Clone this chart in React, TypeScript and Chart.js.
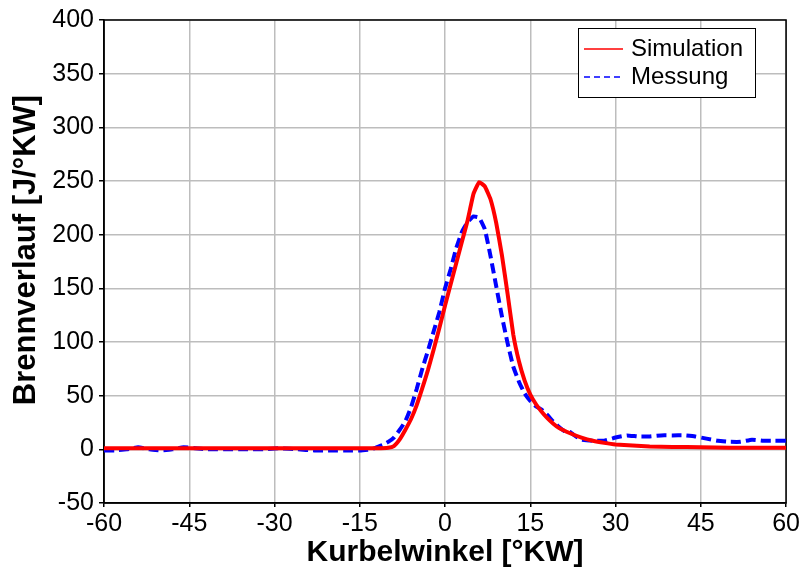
import React, { useEffect, useRef } from "react";
import { Chart, registerables } from "chart.js";

Chart.register(...registerables);

const simAngles = [-60, -50, -40, -30, -20, -14, -12, -10, -9, -8, -7, -6, -5, -4, -3, -2, -1, 0, 1, 2, 3, 4, 5, 6, 7, 8, 9, 10, 11, 12, 13, 14, 15, 16, 17, 18, 19, 20, 22, 24, 26, 28, 30, 33, 36, 40, 45, 50, 55, 60];
const simValues = [1, 1, 1, 1, 1, 1, 1, 1.5, 3, 9, 18, 28, 41, 57, 74, 93, 113, 134, 154, 174, 194, 214, 238, 249, 245, 233, 211, 181, 145, 107, 82, 64, 51, 42, 35, 29, 24, 20, 15, 11, 8, 6, 4.5, 3.5, 2.7, 2.2, 2, 1.5, 1.5, 1.5];

const mesAngles = [-60, -58, -56, -54, -52, -50, -48, -46, -44, -42, -40, -38, -35, -32, -29, -26, -23, -20, -17, -15, -13, -12, -11, -10, -9, -8, -7, -6, -5, -4, -3, -2, -1, 0, 1, 2, 3, 4, 5, 6, 7, 8, 9, 10, 11, 12, 13, 14, 15, 16, 17, 18, 19, 20, 21, 22, 23, 24, 26, 28, 30, 32, 34, 36, 38, 40, 42, 44, 46, 48, 50, 52, 54, 56, 58, 60];
const mesValues = [-1, -1, 0, 2, 0, -1, 0, 2, 1, 0, 0, 0, 0, 0, 1, 0, -1, -1, -1, -1, 0, 2, 4, 7, 11, 18, 26, 39, 56, 75, 92, 110, 128, 150, 168, 188, 203, 212, 217, 216, 205, 180, 152, 124, 99, 77, 63, 52, 45, 40, 37, 32, 26, 21, 17, 16, 12, 9, 8, 8, 11, 13, 12, 12, 13, 13, 13, 12, 10, 8, 7, 7, 9, 8, 8, 8];

const xTicks = [-60, -45, -30, -15, 0, 15, 30, 45, 60];
const yTicks = [-50, 0, 50, 100, 150, 200, 250, 300, 350, 400];

const seriesNames = ["Simulation", "Messung"];
const seriesColors = ["#ff0000", "#0000ff"];
const xTitle = "Kurbelwinkel [°KW]";
const yTitle = "Brennverlauf [J/°KW]";

const FONT = "'Liberation Sans', Arial, sans-serif";

export default function App() {
  const ref = useRef<HTMLCanvasElement | null>(null);

  useEffect(() => {
    document.body.style.margin = "0";
    const canvas = ref.current;
    if (!canvas) return;

    const frame = {
      id: "frame",
      beforeDatasetsDraw(chart: any) {
        const { ctx, chartArea } = chart;
        ctx.save();
        ctx.strokeStyle = "#000";
        ctx.lineWidth = 1.5;
        ctx.strokeRect(chartArea.left, chartArea.top, chartArea.right - chartArea.left, chartArea.bottom - chartArea.top);
        ctx.restore();
      },
    };

    const yTitlePlugin = {
      id: "yTitle",
      afterDraw(chart: any) {
        const { ctx } = chart;
        ctx.save();
        ctx.translate(26, 250);
        ctx.rotate(-Math.PI / 2);
        ctx.fillStyle = "#000";
        ctx.font = `bold 31px ${FONT}`;
        ctx.textAlign = "center";
        ctx.textBaseline = "middle";
        ctx.fillText(yTitle, 0, 0);
        ctx.restore();
      },
    };

    const legendBox = {
      id: "legendBox",
      afterDraw(chart: any) {
        const { ctx } = chart;
        ctx.save();
        const x0 = 578, y0 = 28, w = 177, h = 69;
        ctx.fillStyle = "#fff";
        ctx.fillRect(x0, y0, w, h);
        ctx.strokeStyle = "#000";
        ctx.lineWidth = 1;
        ctx.strokeRect(x0 + 0.5, y0 + 0.5, w, h);
        const rows = [49, 77];
        rows.forEach((yy, i) => {
          ctx.beginPath();
          ctx.strokeStyle = seriesColors[i];
          ctx.lineWidth = 1.5;
          ctx.setLineDash(i === 1 ? [6, 4] : []);
          ctx.moveTo(584, yy);
          ctx.lineTo(623, yy);
          ctx.stroke();
          ctx.setLineDash([]);
          ctx.fillStyle = "#000";
          ctx.font = `24px ${FONT}`;
          ctx.textBaseline = "middle";
          ctx.textAlign = "left";
          ctx.fillText(seriesNames[i], 631, yy);
        });
        ctx.restore();
      },
    };

    const chart = new Chart(canvas, {
      type: "line",
      data: {
        datasets: [
          {
            label: seriesNames[0],
            data: simAngles.map((a, i) => ({ x: a, y: simValues[i] })),
            borderColor: seriesColors[0],
            borderWidth: 4,
            pointRadius: 0,
            tension: 0.1,
            fill: false,
          },
          {
            label: seriesNames[1],
            data: mesAngles.map((a, i) => ({ x: a, y: mesValues[i] })),
            borderColor: seriesColors[1],
            borderWidth: 4,
            borderDash: [10, 5],
            pointRadius: 0,
            tension: 0.1,
            fill: false,
          },
        ],
      },
      options: {
        responsive: false,
        animation: false,
        layout: { padding: { top: 15, right: 15, left: 0, bottom: 0 } },
        plugins: {
          legend: { display: false },
          tooltip: { enabled: false },
        },
        scales: {
          x: {
            type: "linear",
            min: -60,
            max: 60,
            afterBuildTicks: (axis: any) => {
              axis.ticks = xTicks.map((v) => ({ value: v }));
            },
            afterFit: (axis: any) => {
              axis.height = 68;
            },
            ticks: {
              autoSkip: false,
              maxRotation: 0,
              color: "#000",
              padding: 2,
              font: { family: FONT, size: 25 },
            },
            grid: {
              color: "#bdbdbd",
              lineWidth: 1.5,
              tickColor: "#000",
              tickLength: 4,
            },
            border: { color: "#000", width: 1.5 },
            title: {
              display: true,
              text: xTitle,
              color: "#000",
              font: { family: FONT, size: 30, weight: "bold" },
              padding: { top: 0, bottom: 0 },
            },
          },
          y: {
            type: "linear",
            min: -50,
            max: 400,
            afterBuildTicks: (axis: any) => {
              axis.ticks = yTicks.map((v) => ({ value: v }));
            },
            afterFit: (axis: any) => {
              axis.width = 104;
            },
            ticks: {
              autoSkip: false,
              color: "#000",
              padding: 5,
              font: { family: FONT, size: 25 },
            },
            grid: {
              color: "#bdbdbd",
              lineWidth: 1.5,
              tickColor: "#000",
              tickLength: 5,
            },
            border: { color: "#000", width: 1.5 },
          },
        },
      },
      plugins: [frame, legendBox, yTitlePlugin],
    } as any);

    return () => chart.destroy();
  }, []);

  return (
    <div style={{ width: 802, height: 571 }}>
      <canvas ref={ref} width={802} height={571} />
    </div>
  );
}
